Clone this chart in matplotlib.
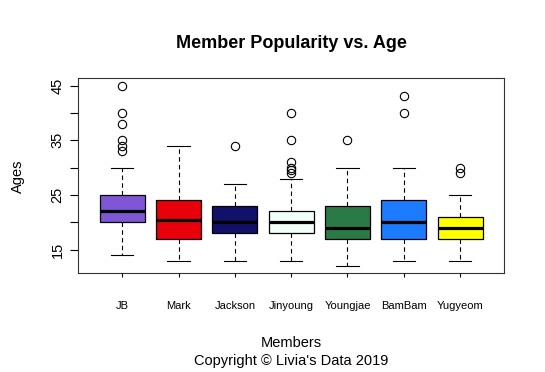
import matplotlib
matplotlib.use("Agg")
import matplotlib.pyplot as plt

plt.rcParams['font.family'] = ['Liberation Sans', 'DejaVu Sans']

# Box summary values
members = ["JB", "Mark", "Jackson", "Jinyoung", "Youngjae", "BamBam", "Yugyeom"]
low_whisker = [14, 13, 13, 13, 12, 13, 13]
q1 = [20, 17, 18, 18, 17, 17, 17]
medians = [22, 20.5, 20, 20, 19, 20, 19]
q3 = [25, 24, 23, 22, 23, 24, 21]
high_whisker = [30, 34, 27, 28, 30, 30, 25]
outliers = [
    [45, 40, 38, 35, 34, 33],
    [],
    [34],
    [40, 35, 31, 30, 29.5, 29],
    [35],
    [43, 40],
    [30, 29],
]
box_colors = ["#7F56D6", "#E8000B", "#13106A", "#F0FFF8", "#2B7A46", "#1C7BFF", "#FFFF00"]

stats = []
for i in range(len(members)):
    stats.append({"whislo": low_whisker[i], "q1": q1[i], "med": medians[i],
                  "q3": q3[i], "whishi": high_whisker[i], "fliers": outliers[i]})

fig = plt.figure(figsize=(5.45, 3.72), dpi=100)
ax = fig.add_axes([0.1437, 0.2653, 0.7811, 0.5242])

bp = ax.bxp(stats, positions=range(1, len(members) + 1), widths=0.8,
            patch_artist=True, capwidths=0.4,
            boxprops=dict(edgecolor="black", linewidth=0.9),
            medianprops=dict(color="black", linewidth=2.3),
            whiskerprops=dict(color="black", linewidth=0.8, linestyle=(0, (4, 3))),
            capprops=dict(color="black", linewidth=0.8),
            flierprops=dict(marker="o", markerfacecolor="none",
                            markeredgecolor="black", markersize=6,
                            markeredgewidth=0.8))
for patch, c in zip(bp["boxes"], box_colors):
    patch.set_facecolor(c)

ax.set_xlim(0.22, 7.78)
ax.set_ylim(10.68, 46.32)

yt = [15, 20, 25, 30, 35, 40, 45]
ax.set_yticks(yt)
ax.set_yticklabels([str(v) if v % 10 == 5 else "" for v in yt],
                   rotation=90, va="center", fontsize=10.5)
ax.tick_params(axis="y", length=6, width=0.8, pad=4)

ax.set_xticks(range(1, len(members) + 1))
ax.set_xticklabels(members, fontsize=8)
ax.tick_params(axis="x", length=3, width=0.8, pad=17)

for s in ax.spines.values():
    s.set_linewidth(0.8)
    s.set_color("#333333")

ax.set_title("Member Popularity vs. Age", fontsize=13, fontweight="bold", pad=22)
ax.set_ylabel("Ages", fontsize=10.5, labelpad=18)
fig.text(0.534, 0.078, "Members", ha="center", va="center", fontsize=10.5)
fig.text(0.534, 0.030, "Copyright \u00a9 Livia's Data 2019", ha="center",
         va="center", fontsize=10.5)

fig.savefig("out.png", dpi=100)
